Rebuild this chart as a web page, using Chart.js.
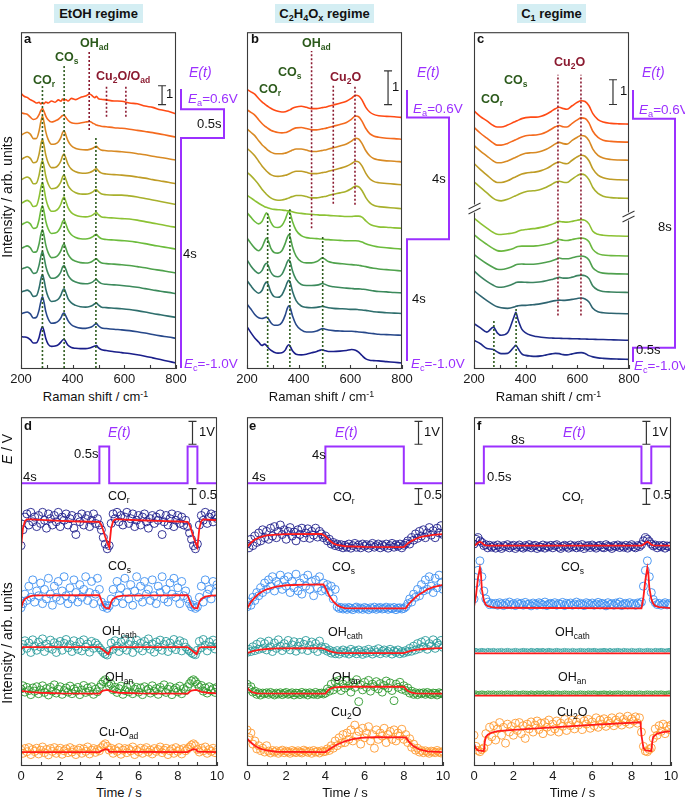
<!DOCTYPE html>
<html><head><meta charset="utf-8">
<script src="https://cdn.jsdelivr.net/npm/chart.js@4.4.1/dist/chart.umd.min.js"></script>
<style>
html,body{margin:0;padding:0;background:#fff;}
#root{position:relative;width:685px;height:801px;overflow:hidden;font-family:"Liberation Sans",Arial,sans-serif;color:#111;}
canvas{position:absolute;}
.t{position:absolute;white-space:nowrap;line-height:1;}
.t sub{font-size:0.68em;vertical-align:-0.32em;line-height:0;}
.t sup{font-size:0.68em;vertical-align:0.5em;line-height:0;}
.regime{position:absolute;top:4px;height:19px;line-height:19px;background:#d4eef3;font-weight:bold;font-size:13px;text-align:center;white-space:nowrap;}
.regime sub{font-size:0.7em;vertical-align:-0.3em;line-height:0;}
</style></head>
<body><div id="root"></div>
<script>
const FONT = '"Liberation Sans", Arial, sans-serif';
const PURPLE = '#9b30ff';
const GREEN_D = '#2c5a1c';
const RED_D = '#8b1a30';
const FIT_RED = '#ff1a1a';

/* ---------------- Raman spectra (panels a-c) ---------------- */
const ramanA_x = [200,212,224,236,248,260,270,277,283,289,296,305,318,332,345,355,361,367,373,382,395,412,430,450,466,478,486,492,499,510,530,560,590,620,650,680,710,740,770,800];
const ramanA = [
 [1.12,0.96,0.9,0.78,0.7,0.6,0.64,0.55,0.63,0.56,0.66,0.6,0.71,0.64,0.77,0.7,0.81,0.73,0.79,0.71,0.85,0.78,0.9,0.97,1.08,0.96,0.88,0.96,0.84,0.8,0.77,0.71,0.7,0.6,0.56,0.44,0.37,0.24,0.16,0.02],
 [1.3,1.25,1.22,1.06,0.94,0.99,1.2,1.42,1.52,1.37,1.12,0.92,0.8,0.86,0.95,1.08,1.15,1.16,1.06,0.9,0.76,0.72,0.75,0.8,0.83,0.74,0.69,0.64,0.62,0.58,0.55,0.5,0.47,0.42,0.36,0.3,0.24,0.16,0.08,0.0],
 [1.32,1.42,1.48,1.38,1.14,1.15,1.55,2.05,2.32,2.02,1.5,1.1,0.84,0.86,0.98,1.22,1.46,1.56,1.36,1.02,0.76,0.62,0.56,0.54,0.57,0.63,0.7,0.73,0.64,0.54,0.5,0.47,0.44,0.4,0.34,0.28,0.2,0.14,0.07,0.0],
 [1.28,1.38,1.45,1.35,1.12,1.16,1.58,2.1,2.36,2.05,1.52,1.12,0.86,0.87,1.0,1.24,1.48,1.58,1.38,1.04,0.78,0.64,0.57,0.56,0.6,0.68,0.76,0.8,0.7,0.58,0.52,0.49,0.46,0.42,0.36,0.3,0.22,0.15,0.08,0.0],
 [1.3,1.4,1.46,1.36,1.1,1.14,1.56,2.08,2.34,2.04,1.5,1.1,0.84,0.86,0.99,1.22,1.47,1.56,1.37,1.02,0.77,0.63,0.56,0.55,0.59,0.67,0.76,0.8,0.69,0.57,0.52,0.5,0.5,0.46,0.4,0.32,0.24,0.16,0.08,0.0],
 [1.26,1.36,1.43,1.33,1.1,1.15,1.6,2.12,2.38,2.06,1.52,1.11,0.85,0.87,1.0,1.25,1.5,1.6,1.4,1.04,0.78,0.64,0.57,0.55,0.58,0.66,0.74,0.78,0.68,0.56,0.52,0.49,0.46,0.44,0.38,0.3,0.22,0.15,0.07,0.0],
 [1.28,1.37,1.44,1.34,1.1,1.14,1.57,2.08,2.3,2.0,1.48,1.08,0.83,0.85,0.98,1.22,1.46,1.55,1.36,1.02,0.76,0.62,0.55,0.54,0.58,0.66,0.75,0.79,0.68,0.56,0.51,0.48,0.45,0.42,0.36,0.29,0.21,0.14,0.07,0.0],
 [1.3,1.38,1.44,1.34,1.1,1.13,1.55,2.06,2.3,2.0,1.48,1.08,0.82,0.84,0.97,1.2,1.44,1.54,1.34,1.0,0.75,0.62,0.55,0.53,0.56,0.64,0.72,0.76,0.66,0.55,0.5,0.47,0.44,0.4,0.34,0.28,0.2,0.14,0.07,0.0],
 [1.3,1.36,1.42,1.32,1.08,1.12,1.52,2.0,2.24,1.96,1.46,1.07,0.82,0.84,0.96,1.18,1.42,1.5,1.32,0.99,0.75,0.62,0.55,0.53,0.56,0.63,0.72,0.75,0.66,0.55,0.5,0.47,0.44,0.4,0.34,0.27,0.2,0.13,0.07,0.0],
 [1.34,1.4,1.45,1.35,1.12,1.16,1.56,2.04,2.28,2.0,1.5,1.1,0.85,0.87,0.98,1.2,1.43,1.52,1.34,1.0,0.77,0.64,0.57,0.55,0.58,0.65,0.73,0.76,0.67,0.56,0.52,0.49,0.46,0.42,0.36,0.29,0.21,0.14,0.07,0.0],
 [1.3,1.36,1.4,1.3,1.08,1.12,1.5,1.96,2.2,1.92,1.42,1.04,0.8,0.82,0.92,1.1,1.28,1.34,1.2,0.94,0.72,0.6,0.54,0.53,0.57,0.65,0.74,0.78,0.68,0.56,0.52,0.48,0.45,0.41,0.35,0.28,0.2,0.13,0.07,0.0],
 [1.4,1.38,1.36,1.24,1.06,1.08,1.36,1.75,1.93,1.7,1.3,1.0,0.88,0.9,0.98,1.12,1.22,1.26,1.14,0.94,0.82,0.78,0.76,0.76,0.8,0.86,0.9,0.92,0.82,0.72,0.66,0.6,0.55,0.5,0.44,0.36,0.27,0.18,0.09,0.0]
];
const ramanA_offsets = [13.53,12.32,11.1,9.84,8.74,7.53,6.37,5.1,4.0,2.74,1.63,0.32];

const ramanB_x = [200,215,230,245,258,268,275,282,292,305,320,335,348,356,362,368,376,390,410,430,450,470,485,492,500,515,535,560,585,605,620,632,645,660,675,690,710,740,770,800];
const ramanB = [
 [0.83,0.76,0.69,0.56,0.46,0.4,0.36,0.32,0.27,0.22,0.18,0.16,0.17,0.19,0.21,0.23,0.27,0.31,0.33,0.3,0.26,0.26,0.28,0.29,0.3,0.33,0.37,0.42,0.48,0.57,0.66,0.64,0.52,0.3,0.16,0.09,0.05,0.03,0.02,0.0],
 [0.88,0.8,0.72,0.58,0.47,0.4,0.36,0.32,0.27,0.23,0.2,0.19,0.2,0.22,0.24,0.26,0.3,0.34,0.35,0.32,0.28,0.28,0.3,0.31,0.32,0.35,0.39,0.44,0.5,0.6,0.69,0.67,0.54,0.32,0.17,0.1,0.06,0.03,0.02,0.0],
 [0.98,0.88,0.78,0.63,0.51,0.44,0.39,0.34,0.29,0.25,0.24,0.24,0.26,0.28,0.3,0.32,0.35,0.38,0.38,0.35,0.31,0.31,0.33,0.34,0.35,0.38,0.42,0.47,0.53,0.62,0.7,0.68,0.55,0.33,0.18,0.1,0.06,0.03,0.02,0.0],
 [1.08,0.98,0.86,0.7,0.56,0.47,0.41,0.36,0.3,0.26,0.25,0.26,0.28,0.3,0.32,0.34,0.37,0.4,0.4,0.37,0.33,0.33,0.35,0.36,0.37,0.4,0.44,0.49,0.55,0.63,0.7,0.68,0.56,0.34,0.18,0.1,0.06,0.04,0.02,0.0],
 [1.08,0.98,0.86,0.72,0.58,0.49,0.43,0.38,0.32,0.27,0.25,0.26,0.28,0.3,0.32,0.34,0.36,0.39,0.39,0.36,0.32,0.32,0.34,0.35,0.36,0.39,0.43,0.47,0.52,0.6,0.67,0.65,0.54,0.33,0.18,0.1,0.06,0.04,0.02,0.0],
 [0.98,0.9,0.82,0.74,0.68,0.64,0.62,0.6,0.58,0.56,0.55,0.54,0.53,0.52,0.52,0.51,0.49,0.46,0.44,0.42,0.41,0.4,0.39,0.39,0.39,0.38,0.37,0.36,0.35,0.35,0.36,0.36,0.33,0.22,0.12,0.07,0.04,0.03,0.01,0.0],
 [1.08,0.95,0.82,0.75,0.82,0.98,1.08,1.0,0.8,0.66,0.64,0.7,0.88,1.05,1.12,1.04,0.82,0.56,0.4,0.34,0.32,0.31,0.3,0.3,0.29,0.28,0.27,0.26,0.25,0.25,0.25,0.24,0.21,0.16,0.12,0.09,0.06,0.04,0.02,0.0],
 [0.98,0.82,0.68,0.6,0.7,0.88,0.98,0.9,0.68,0.55,0.53,0.6,0.82,1.0,1.08,0.98,0.72,0.44,0.28,0.24,0.24,0.28,0.36,0.39,0.36,0.28,0.24,0.22,0.2,0.19,0.18,0.17,0.15,0.13,0.1,0.08,0.06,0.04,0.02,0.0],
 [0.98,0.8,0.66,0.58,0.66,0.82,0.88,0.82,0.62,0.5,0.48,0.55,0.76,0.92,0.98,0.9,0.66,0.4,0.25,0.22,0.22,0.23,0.26,0.28,0.26,0.21,0.18,0.16,0.14,0.13,0.12,0.12,0.11,0.1,0.08,0.06,0.04,0.03,0.01,0.0],
 [0.98,0.82,0.68,0.6,0.68,0.86,0.93,0.86,0.64,0.5,0.48,0.55,0.76,0.92,0.98,0.9,0.66,0.38,0.22,0.18,0.17,0.18,0.2,0.21,0.2,0.17,0.15,0.14,0.13,0.12,0.12,0.11,0.1,0.09,0.07,0.05,0.04,0.02,0.01,0.0],
 [0.93,0.78,0.62,0.52,0.5,0.52,0.54,0.5,0.38,0.3,0.3,0.38,0.6,0.8,0.88,0.8,0.58,0.32,0.16,0.1,0.1,0.13,0.18,0.2,0.19,0.16,0.14,0.13,0.12,0.12,0.11,0.1,0.09,0.08,0.06,0.05,0.03,0.02,0.01,0.0],
 [1.08,0.9,0.74,0.62,0.52,0.56,0.52,0.45,0.38,0.32,0.29,0.3,0.38,0.5,0.54,0.48,0.36,0.26,0.24,0.26,0.3,0.34,0.38,0.39,0.37,0.34,0.34,0.35,0.37,0.4,0.38,0.32,0.22,0.12,0.08,0.07,0.06,0.04,0.02,0.0]
];
const ramanB_offsets = [7.47,6.82,6.15,5.47,4.76,4.18,3.56,2.91,2.26,1.65,1.0,0.18];

const ramanC_x = [200,225,250,275,290,305,330,355,362,370,385,400,420,440,460,480,500,515,530,545,560,580,600,615,630,645,660,680,700,730,760,800];
const ramanC = [
 [0.53,0.3,0.13,-0.06,-0.12,-0.12,-0.04,0.08,0.11,0.15,0.22,0.26,0.28,0.28,0.32,0.4,0.52,0.62,0.68,0.63,0.6,0.74,0.88,0.94,0.91,0.74,0.42,0.18,0.08,0.03,0.01,0.0],
 [0.6,0.36,0.16,-0.04,-0.12,-0.12,-0.05,0.07,0.1,0.14,0.21,0.26,0.28,0.29,0.33,0.41,0.53,0.62,0.67,0.62,0.61,0.76,0.9,0.98,0.96,0.78,0.44,0.19,0.08,0.03,0.01,0.0],
 [0.6,0.37,0.17,-0.03,-0.1,-0.1,-0.03,0.09,0.12,0.16,0.23,0.28,0.3,0.31,0.36,0.44,0.56,0.66,0.72,0.67,0.65,0.8,0.93,1.0,0.97,0.79,0.45,0.2,0.09,0.03,0.01,0.0],
 [0.67,0.42,0.2,-0.02,-0.1,-0.1,-0.03,0.1,0.13,0.17,0.24,0.28,0.31,0.33,0.38,0.46,0.58,0.68,0.73,0.68,0.66,0.8,0.94,1.0,0.96,0.78,0.45,0.2,0.09,0.03,0.01,0.0],
 [0.67,0.44,0.22,0.0,-0.08,-0.1,-0.04,0.08,0.11,0.15,0.22,0.27,0.3,0.32,0.37,0.45,0.56,0.65,0.69,0.65,0.64,0.78,0.92,0.98,0.94,0.76,0.44,0.2,0.09,0.03,0.01,0.0],
 [0.73,0.52,0.33,0.15,0.08,0.07,0.1,0.14,0.16,0.2,0.25,0.27,0.3,0.32,0.36,0.41,0.47,0.54,0.6,0.58,0.57,0.6,0.65,0.67,0.64,0.5,0.2,0.08,0.04,0.02,0.01,0.0],
 [0.87,0.65,0.47,0.3,0.22,0.2,0.24,0.32,0.36,0.39,0.4,0.4,0.4,0.41,0.44,0.48,0.53,0.6,0.67,0.64,0.63,0.67,0.71,0.73,0.7,0.58,0.27,0.1,0.04,0.02,0.01,0.0],
 [0.8,0.6,0.42,0.27,0.2,0.19,0.24,0.34,0.38,0.4,0.41,0.4,0.4,0.41,0.44,0.48,0.53,0.59,0.65,0.62,0.62,0.66,0.71,0.73,0.7,0.57,0.26,0.1,0.04,0.02,0.01,0.0],
 [0.87,0.64,0.45,0.29,0.22,0.21,0.26,0.36,0.4,0.42,0.42,0.41,0.4,0.41,0.43,0.47,0.52,0.57,0.61,0.58,0.58,0.62,0.68,0.7,0.68,0.56,0.26,0.1,0.04,0.02,0.01,0.0],
 [0.93,0.72,0.53,0.36,0.28,0.24,0.22,0.27,0.3,0.32,0.34,0.34,0.36,0.38,0.41,0.45,0.5,0.53,0.55,0.54,0.55,0.58,0.62,0.64,0.6,0.48,0.22,0.08,0.04,0.02,0.01,0.0],
 [0.67,0.5,0.33,0.53,0.3,0.2,0.3,0.95,1.13,0.85,0.45,0.3,0.2,0.15,0.12,0.1,0.09,0.08,0.08,0.07,0.07,0.06,0.06,0.05,0.05,0.04,0.04,0.03,0.03,0.02,0.01,0.0],
 [0.77,0.63,0.44,0.4,0.3,0.23,0.24,0.5,0.57,0.45,0.22,0.16,0.13,0.12,0.14,0.18,0.22,0.24,0.23,0.19,0.18,0.22,0.26,0.27,0.24,0.15,0.1,0.06,0.04,0.02,0.01,0.0]
];
const ramanC_offsets = [9.89,9.16,8.43,7.63,6.89,5.36,4.56,3.83,3.09,2.23,1.16,0.39];

const colorsAB = ['#ff4a14','#f46a1e','#d88a24','#bf9c26','#a8b02c','#8cc234','#6cbc3c','#4fa24c','#3c8a5c','#2e6e6c','#27488a','#1a1e8a'];
const colorsC  = ['#ff4a14','#f46a1e','#d88a24','#bf9c26','#a8b02c','#8cc234','#6cb840','#4fa04e','#3c8460','#2e6470','#1e2a8a','#1e2a8a'];

// peak guide lines: [wavenumber, from, to, colour key]
const guidesA = [[283,0.05,15.05,'g'],[367,0.05,16.1,'g'],[490,0.05,12.3,'g'],[464,12.7,16.9,'r'],[531,13.4,15.1,'r'],[606,13.4,15.1,'r']];
const guidesB = [[280,0.06,4.62,'g'],[366,0.06,4.74,'g'],[493,0.06,3.94,'g'],[450,4.18,9.44,'r'],[534,4.91,8.44,'r'],[618,4.88,8.41,'r']];
const guidesC = [[277,0.08,1.96,'g'],[363,0.08,2.44,'g'],[525,2.16,11.88,'r'],[614,2.16,11.88,'r']];

// potential waveforms next to spectra: [E (V), t (s)]
const waveA = [[-1,0],[-1,4],[0.6,4],[0.6,4.5],[-1,4.5],[-1,4.85]];
const waveB = [[-1,0],[-1,4],[0.6,4],[0.6,8],[-1,8],[-1,8.9]];
const waveC = [[-1,0],[-1,0.5],[0.6,0.5],[0.6,8.5],[-1,8.5],[-1,9.5]];

/* ---------------- Time-resolved intensities (panels d-f) ---------------- */
const TIME = Array.from({length:101}, (_, i) => i / 10);

const dCOr = [0.05,0.55,0.95,1.05,0.7,1.1,0.8,0.95,0.65,1.0, 0.75,1.1,0.85,0.6,1.05,0.9,0.7,1.0,0.8,1.1, 0.65,0.95,0.85,1.05,0.7,0.9,1.0,0.6,0.4,0.95, 0.8,1.05,0.7,0.9,1.0,0.65,0.85,1.05,0.75,0.9, 0.7,0.55,0.3,0.1,-0.05,0.05,0.75,1.05,0.9,1.1, 0.8,1.0,0.7,0.95,1.1,0.75,0.9,1.05,0.65,0.85, 1.0,0.7,0.95,1.05,0.8,0.6,0.9,1.0,0.75,0.95, 0.85,1.05,0.4,0.8,1.0,0.7,0.9,1.05,0.65,0.85, 1.0,0.75,0.95,0.7,0.85,0.65,0.45,0.25,0.05,-0.05, 0.1,0.7,1.0,0.85,1.1,0.75,0.95,1.05,0.8,1.0, 0.9];
const dCOs = [0.02,0.15,0.45,0.25,0.7,0.35,0.9,0.2,0.55,0.4, 0.8,0.15,0.6,0.3,0.95,0.45,0.1,0.7,0.35,0.85, 0.25,0.55,1.0,0.4,0.15,0.65,0.3,0.9,0.5,0.2, 0.75,0.35,0.6,1.0,0.25,0.5,0.85,0.15,0.45,0.95, 0.6,0.2,0.05,0.1,0.0,0.08,0.3,0.6,0.2,0.85, 0.4,0.65,0.15,0.95,0.5,0.3,0.75,0.1,0.55,1.0, 0.35,0.7,0.2,0.85,0.45,0.6,0.25,0.9,0.4,0.15, 0.7,0.5,1.0,0.3,0.6,0.2,0.8,0.45,0.95,0.35, 0.65,0.15,0.85,0.4,0.55,0.3,0.15,0.05,0.1,0.0, 0.05,0.35,0.7,0.2,0.9,0.45,0.6,0.3,0.85,0.5, 0.75];
const dOHc = [0.1,0.3,0.42,0.18,0.35,0.05,0.45,0.25,0.12,0.38, 0.22,0.48,0.08,0.32,0.2,0.44,0.15,0.36,0.05,0.28, 0.4,0.12,0.34,0.46,0.2,0.3,0.08,0.42,0.25,0.15, 0.38,0.1,0.45,0.22,0.32,0.06,0.4,0.18,0.35,0.28, 0.2,0.12,0.05,0.0,-0.03,0.1,0.35,0.15,0.42,0.25, 0.08,0.38,0.2,0.46,0.12,0.3,0.4,0.05,0.28,0.44, 0.18,0.34,0.1,0.4,0.25,0.48,0.15,0.32,0.06,0.38, 0.22,0.44,0.12,0.3,0.4,0.08,0.35,0.2,0.46,0.14, 0.3,0.42,0.1,0.36,0.22,0.15,0.1,0.04,0.0,-0.02, 0.12,0.4,0.2,0.46,0.28,0.1,0.38,0.24,0.44,0.16, 0.34];
const dOHa = [0.15,0.25,0.05,0.2,0.1,-0.03,0.18,0.08,0.22,0.0, 0.12,0.25,0.04,0.16,-0.04,0.2,0.08,0.28,0.02,0.14, 0.22,-0.02,0.1,0.18,0.05,0.24,0.0,0.15,0.08,0.2, -0.03,0.12,0.26,0.04,0.18,0.08,0.22,-0.02,0.14,0.06, 0.2,0.3,0.38,0.44,0.36,0.25,0.3,0.12,0.2,0.04, 0.16,0.24,-0.02,0.1,0.2,0.06,0.26,0.0,0.14,0.2, 0.05,0.18,-0.03,0.22,0.1,0.15,0.02,0.25,0.08,0.16, -0.02,0.2,0.1,0.28,0.04,0.14,0.22,-0.03,0.12,0.18, 0.06,0.24,0.0,0.16,0.1,0.22,0.32,0.4,0.44,0.38, 0.3,0.2,0.26,0.08,0.18,0.02,0.22,0.1,0.16,0.04, 0.2];
const dCuO = [0.1,0.0,0.15,0.05,0.18,-0.04,0.12,0.06,0.16,-0.02, 0.1,0.2,0.02,0.12,-0.05,0.15,0.06,0.18,0.0,0.1, 0.16,-0.03,0.08,0.14,0.02,0.18,0.04,0.12,-0.04,0.1, 0.16,0.0,0.14,0.06,0.2,-0.02,0.1,0.15,0.03,0.12, 0.08,0.18,0.25,0.3,0.22,0.1,0.16,0.0,0.12,0.06, 0.18,-0.03,0.1,0.15,0.02,0.14,0.08,0.2,-0.04,0.1, 0.05,0.16,0.0,0.12,0.18,0.04,0.1,-0.02,0.15,0.06, 0.12,0.2,0.02,0.1,0.16,-0.04,0.08,0.14,0.0,0.18, 0.06,0.12,-0.02,0.15,0.08,0.14,0.2,0.26,0.3,0.24, 0.12,0.04,0.16,0.08,0.2,0.0,0.12,0.06,0.16,0.02, 0.1];

const eCOr = [0.1,-0.02,0.25,0.05,0.35,0.15,0.45,0.2,0.55,0.3, 0.5,0.25,0.6,0.35,0.65,0.3,0.5,0.7,0.4,0.55, 0.25,0.5,0.62,0.35,0.48,0.2,0.55,0.4,0.6,0.3, 0.45,0.58,0.28,0.5,0.38,0.6,0.32,0.5,0.42,0.3, 0.35,0.2,0.25,0.1,0.15,0.05,0.1,0.02,0.08,-0.02, 0.06,0.0,0.1,-0.03,0.05,0.12,0.0,0.07,-0.02,0.1, 0.03,0.08,-0.03,0.06,0.12,0.0,0.05,0.1,-0.02,0.07, 0.02,0.1,-0.03,0.05,0.12,0.0,0.08,0.03,0.1,-0.02, 0.06,0.12,0.2,0.1,0.3,0.22,0.42,0.28,0.5,0.35, 0.55,0.3,0.45,0.62,0.38,0.52,0.3,0.6,0.45,0.68, 0.4];
const eCOs = [0.05,0.2,0.1,0.35,0.25,0.5,0.4,0.65,0.5,0.8, 0.6,0.9,0.7,1.0,0.55,0.85,0.75,1.05,0.6,0.9, 0.7,1.0,0.5,0.85,0.65,1.08,0.55,0.8,0.45,0.95, 0.7,1.05,0.6,0.85,0.4,0.9,0.65,1.0,0.55,0.8, 0.6,0.75,0.5,0.7,0.3,0.6,0.05,0.0,0.03,-0.02, 0.02,-0.03,0.03,0.0,-0.04,0.02,0.04,-0.02,0.01,-0.03, 0.03,0.0,-0.04,0.02,-0.01,0.04,-0.03,0.01,0.03,-0.02, 0.0,0.04,-0.03,0.02,-0.01,0.03,-0.04,0.01,0.02,-0.02, 0.0,0.05,0.15,0.3,0.2,0.45,0.35,0.6,0.4,0.75, 0.55,0.9,0.6,1.0,0.7,0.5,0.95,0.65,1.05,0.8, 0.6];
const eOHc = [0.02,0.12,0.05,0.2,0.08,0.28,0.12,0.35,0.15,0.3, 0.1,0.38,0.2,0.05,0.32,0.15,0.42,0.22,0.08,0.3, 0.18,0.4,0.1,0.26,0.36,0.06,0.22,0.34,0.12,0.28, 0.4,0.08,0.24,0.35,0.14,0.3,0.05,0.38,0.2,0.12, 0.18,0.06,0.1,0.0,0.05,-0.02,0.08,-0.03,0.04,0.1, 0.0,0.06,-0.03,0.12,0.02,0.07,-0.02,0.1,0.03,-0.04, 0.08,0.0,0.12,0.04,-0.03,0.09,0.02,0.14,-0.02,0.06, 0.1,0.0,0.05,0.12,-0.03,0.07,0.02,0.1,-0.02,0.05, 0.0,0.08,0.04,0.15,0.06,0.22,0.1,0.3,0.14,0.35, 0.2,0.4,0.12,0.3,0.22,0.42,0.15,0.32,0.25,0.4, 0.18];
const eOHa = [0.3,0.15,0.22,0.05,0.08,-0.02,0.03,-0.04,0.02,0.0, 0.03,-0.02,0.04,0.0,-0.04,0.02,-0.01,0.03,-0.03,0.01, 0.04,-0.02,0.0,0.03,-0.04,0.02,0.01,-0.03,0.04,-0.01, 0.02,-0.04,0.03,0.0,-0.02,0.04,-0.03,0.01,0.02,-0.01, 0.02,0.15,0.08,0.3,0.12,0.38,0.2,0.42,0.1,0.3, 0.18,0.4,0.25,0.05,0.35,0.2,0.44,-0.25,0.28,0.12, 0.36,0.2,0.42,0.08,0.3,0.22,0.38,0.15,0.32,0.05, 0.26,0.4,0.18,0.34,0.1,-0.22,0.3,0.2,0.36,0.14, 0.25,0.1,0.18,0.02,0.08,-0.02,0.03,-0.03,0.02,0.0, 0.03,-0.02,0.04,0.0,-0.03,0.02,0.01,-0.04,0.03,0.0, 0.02];
const eCu2O = [0.7,0.45,0.6,0.25,0.35,0.1,0.2,0.05,0.12,0.0, 0.2,0.03,-0.03,0.05,0.0,0.04,-0.04,0.02,0.06,-0.02, 0.03,0.0,-0.04,0.05,0.01,-0.02,0.04,0.0,-0.03,0.06, 0.02,-0.01,0.03,-0.04,0.05,0.0,0.02,-0.03,0.04,0.01, 0.02,0.1,0.05,0.2,0.12,0.35,0.2,0.45,0.28,0.55, 0.3,0.6,0.4,0.7,0.35,0.85,0.5,0.65,0.25,0.75, 0.45,0.6,0.8,0.35,0.55,0.12,0.7,0.4,0.6,0.5, 0.75,0.3,0.55,0.65,0.4,0.7,0.35,0.6,0.5,0.72, 0.4,0.55,0.3,0.42,0.15,0.25,0.06,0.12,0.0,0.05, -0.02,0.04,0.0,-0.04,0.03,0.01,-0.02,0.05,0.0,-0.03, 0.02];

const fCOr = [0.1,0.25,0.3,0.2,0.15,0.05,0.08,-0.02,0.06,0.0, 0.04,-0.03,0.07,0.01,-0.04,0.05,0.02,0.08,-0.02,0.03, 0.06,-0.04,0.02,0.07,0.0,-0.03,0.05,0.01,0.08,-0.02, 0.03,0.06,-0.04,0.02,0.0,0.07,-0.03,0.04,0.01,0.06, -0.02,0.05,0.08,0.0,-0.04,0.03,0.06,0.02,-0.03,0.07, 0.01,0.04,-0.02,0.06,0.0,0.08,-0.04,0.03,0.05,-0.01, 0.07,0.02,-0.03,0.04,0.06,0.0,-0.02,0.08,0.03,0.01, -0.04,0.05,0.02,0.07,-0.01,0.04,0.0,0.06,-0.03,0.03, 0.08,0.01,-0.02,0.05,0.02,0.08,0.2,0.3,0.25,0.18, 0.1,0.04,0.07,-0.02,0.05,0.01,0.06,-0.03,0.04,0.02, 0.05];
const fCOs = [0.3,0.8,1.2,1.5,1.0,0.55,0.3,0.2,0.12,0.16, 0.12,0.16,0.1,0.18,0.14,0.09,0.17,0.12,0.2,0.11, 0.15,0.09,0.18,0.13,0.16,0.1,0.19,0.12,0.14,0.08, 0.17,0.13,0.1,0.18,0.15,0.11,0.2,0.09,0.14,0.16, 0.12,0.18,0.1,0.15,0.13,0.19,0.09,0.16,0.12,0.17, 0.1,0.14,0.2,0.11,0.16,0.13,0.09,0.18,0.15,0.12, 0.17,0.1,0.14,0.19,0.11,0.16,0.13,0.08,0.18,0.12, 0.15,0.1,0.17,0.13,0.2,0.09,0.14,0.16,0.11,0.18, 0.12,0.15,0.1,0.17,0.14,0.2,0.7,1.2,1.5,1.0, 0.5,0.28,0.18,0.12,0.16,0.1,0.14,0.18,0.11,0.15, 0.12];
const fOHc = [0.1,0.11,0.09,0.1,0.11,0.1,0.09,0.11,0.1,0.1, 0.11,0.09,0.1,0.1,0.11,0.09,0.1,0.11,0.1,0.09, 0.1,0.11,0.1,0.09,0.1,0.11,0.1,0.1,0.09,0.11, 0.1,0.09,0.11,0.1,0.1,0.11,0.09,0.1,0.11,0.1, 0.09,0.1,0.11,0.1,0.09,0.1,0.11,0.1,0.1,0.09, 0.11,0.1,0.09,0.1,0.11,0.1,0.1,0.09,0.11,0.1, 0.1,0.11,0.1,0.09,0.1,0.1,0.11,0.1,0.09,0.11, 0.09,0.1,0.1,0.11,0.1,0.09,0.11,0.1,0.1,0.09, 0.11,0.1,0.09,0.1,0.11,0.1,0.09,0.1,0.11,0.1, 0.1,0.09,0.11,0.1,0.1,0.11,0.1,0.09,0.1,0.11, 0.1];
const fOHa = [0.09,0.1,0.08,0.09,0.1,0.09,0.08,0.1,0.09,0.09, 0.1,0.08,0.09,0.09,0.1,0.08,0.09,0.1,0.09,0.08, 0.09,0.1,0.09,0.08,0.09,0.1,0.09,0.09,0.08,0.1, 0.09,0.08,0.1,0.09,0.09,0.1,0.08,0.09,0.1,0.09, 0.08,0.09,0.1,0.09,0.08,0.09,0.1,0.09,0.09,0.08, 0.1,0.09,0.08,0.09,0.1,0.09,0.09,0.08,0.1,0.09, 0.09,0.1,0.09,0.08,0.09,0.09,0.1,0.09,0.08,0.1, 0.08,0.09,0.09,0.1,0.09,0.08,0.1,0.09,0.09,0.08, 0.1,0.09,0.08,0.09,0.1,0.09,0.08,0.09,0.1,0.09, 0.09,0.08,0.1,0.09,0.09,0.1,0.09,0.08,0.09,0.1, 0.09];
const fCu2O = [0.5,0.15,0.02,-0.02,0.05,0.1,0.55,0.3,0.75,0.45, 0.8,0.35,0.7,0.9,0.5,0.75,0.25,0.85,0.6,0.78, 0.5,0.88,0.65,0.9,0.55,0.8,0.4,0.85,0.7,0.92, 0.6,0.82,0.95,0.68,0.88,0.55,0.9,0.75,0.98,0.62, 0.85,0.7,0.95,0.6,0.88,0.78,1.0,0.65,0.9,0.8, 0.98,0.7,0.92,0.82,1.02,0.68,0.95,0.85,1.0,0.72, 0.92,0.8,1.05,0.75,0.98,0.85,1.02,0.78,0.95,0.88, 1.05,0.8,0.98,0.9,1.08,0.82,1.0,0.92,1.1,0.85, 1.02,0.95,1.08,0.88,1.05,0.6,0.15,0.0,-0.02,0.05, 0.1,0.4,0.7,0.5,0.8,0.62,0.85,0.55,0.78,0.68, 0.82];

// kinetic fits: [t, intensity]
const dCOrFit = [[0,0],[0.1,0.6],[0.2,0.82],[0.3,0.88],[0.5,0.88],[1,0.86],[2,0.83],[3,0.81],[4,0.8],[4.1,0.7],[4.2,0.52],[4.3,0.32],[4.4,0.14],[4.5,0],[4.6,0.6],[4.7,0.82],[4.8,0.88],[5,0.88],[6,0.85],[7,0.83],[8,0.81],[8.5,0.8],[8.6,0.7],[8.7,0.52],[8.8,0.32],[8.9,0.14],[9,0],[9.1,0.6],[9.2,0.82],[9.3,0.88],[10,0.85]];
const dCOsFit = [[0,0],[0.1,0.2],[0.2,0.3],[0.4,0.37],[0.6,0.4],[1,0.41],[4,0.42],[4.1,0.25],[4.2,0.1],[4.3,0.02],[4.5,0],[4.6,0.2],[4.7,0.3],[4.9,0.37],[5.2,0.4],[8.5,0.42],[8.6,0.25],[8.7,0.1],[8.8,0.02],[9,0],[9.1,0.2],[9.2,0.3],[9.4,0.37],[9.7,0.4],[10,0.41]];
const dOHcFit = [[0,0.15],[0.1,0.22],[4,0.22],[4.45,0],[4.5,0.05],[4.6,0.2],[4.7,0.22],[8.5,0.22],[8.95,0],[9,0.05],[9.1,0.2],[9.2,0.22],[10,0.22]];
const dOHaFit = [[0,0.09],[0.5,0.05],[1,0.03],[2,0.01],[4,0],[4.1,0.06],[4.2,0.1],[4.4,0.12],[4.5,0.1],[4.7,0.06],[5,0.03],[6,0.01],[8.5,0],[8.6,0.06],[8.7,0.1],[8.9,0.12],[9,0.11],[9.2,0.06],[9.5,0.03],[10,0.01]];
const dCuOFit = [[0,0.04],[4,0.04],[4.1,0.08],[4.3,0.13],[4.45,0.12],[4.5,0.05],[8.5,0.04],[8.6,0.08],[8.8,0.13],[8.95,0.12],[9,0.05],[10,0.04]];

const eCOrFit = [[0,0],[0.2,0.14],[0.4,0.24],[0.6,0.3],[0.8,0.34],[1,0.37],[1.5,0.4],[2,0.41],[3.8,0.42],[4,0.35],[4.2,0.22],[4.4,0.12],[4.6,0.07],[5,0.03],[6,0.01],[8,0],[8.2,0.12],[8.4,0.2],[8.6,0.26],[8.8,0.31],[9,0.34],[9.5,0.39],[10,0.41]];
const eCOsFit = [[0,0],[0.2,0.2],[0.4,0.35],[0.6,0.46],[0.8,0.54],[1,0.6],[1.5,0.69],[2,0.73],[3,0.75],[3.9,0.76],[4,0.65],[4.2,0.4],[4.4,0.22],[4.6,0.1],[4.8,0.04],[5,0.01],[6,0],[8.1,0],[8.2,0.1],[8.4,0.24],[8.6,0.35],[8.8,0.45],[9,0.52],[9.2,0.6],[9.5,0.67],[10,0.74]];
const eOHcFit = [[0,0],[0.3,0.06],[0.6,0.1],[1,0.13],[1.5,0.15],[3.8,0.16],[4,0.12],[4.2,0.06],[4.4,0.03],[4.6,0.01],[5,0],[8,0],[8.3,0.06],[8.6,0.1],[9,0.13],[9.5,0.15],[10,0.16]];
const eOHaFit = [[0,0.2],[0.1,0.12],[0.2,0.07],[0.3,0.04],[0.5,0.01],[4,0],[4.1,0.08],[4.2,0.14],[4.4,0.19],[4.6,0.21],[5,0.22],[8,0.22],[8.1,0.15],[8.2,0.09],[8.4,0.03],[8.6,0.01],[10,0]];
const eCu2OFit = [[0,0.43],[0.2,0.3],[0.4,0.2],[0.6,0.13],[0.8,0.08],[1,0.05],[1.5,0.01],[4,0],[4.3,0.13],[4.6,0.24],[5,0.34],[5.4,0.41],[5.8,0.45],[6.5,0.47],[8.1,0.46],[8.3,0.3],[8.5,0.18],[8.8,0.08],[9.2,0.02],[10,0]];

const fCOrFit = [[0,0.05],[0.1,0.08],[0.2,0.14],[0.3,0.17],[0.4,0.14],[0.5,0.08],[0.6,0.06],[0.8,0.05],[8.5,0.05],[8.6,0.08],[8.7,0.14],[8.8,0.17],[8.9,0.14],[9,0.08],[9.1,0.06],[10,0.05]];
const fCOsFit = [[0,0.05],[0.1,0.4],[0.2,0.95],[0.3,1.28],[0.35,1.1],[0.4,0.6],[0.5,0.25],[0.6,0.12],[0.7,0.07],[0.9,0.04],[1.2,0.02],[8.5,0],[8.6,0.35],[8.7,0.9],[8.8,1.28],[8.85,1.1],[8.9,0.65],[9,0.3],[9.1,0.15],[9.2,0.08],[9.4,0.04],[10,0.01]];
const fOHcFit = [[0,0],[10,0]];
const fOHaFit = [[0,0],[10,0]];
const fCu2OFit = [[0,0.24],[0.1,0.08],[0.2,0.02],[0.5,0],[0.55,0.3],[0.6,0.45],[0.7,0.52],[0.9,0.58],[1.2,0.63],[2,0.67],[4,0.75],[6,0.83],[8.45,0.91],[8.5,0.5],[8.6,0.1],[8.7,0.02],[9,0],[9.05,0.3],[9.1,0.45],[9.3,0.55],[9.6,0.6],[10,0.63]];

// applied potential E(t): [t, E (V)]
const potD = [[0,-1],[4,-1],[4,0.6],[4.5,0.6],[4.5,-1],[8.5,-1],[8.5,0.6],[9,0.6],[9,-1],[10,-1]];
const potE = [[0,-1],[4,-1],[4,0.6],[8,0.6],[8,-1],[10,-1]];
const potF = [[0,-1],[0.5,-1],[0.5,0.6],[8.5,0.6],[8.5,-1],[9,-1],[9,0.6],[10,0.6]];

// vertical stacking baselines of each trace
const offsD = [6.9,4.97,3.53,2.28,0.4];
const offsE = [6.9,4.97,3.56,2.28,0.44];
const offsF = [6.9,4.97,3.55,2.22,0.47];
const scatterColors = ['#1f1f8c','#3d8ef0','#2a9c9c','#2f9a2f','#ff9a30'];

/* ---------------- helpers ---------------- */
const root = document.getElementById('root');
Chart.defaults.font.family = FONT;

function mkCanvas(left, top, w, h) {
  const c = document.createElement('canvas');
  c.width = w; c.height = h;
  c.style.left = left + 'px'; c.style.top = top + 'px';
  c.style.width = w + 'px'; c.style.height = h + 'px';
  root.appendChild(c);
  return c;
}

const framePlugin = {
  id: 'frame',
  afterDatasetsDraw(chart, args, opts) {
    const {ctx, chartArea: a, scales} = chart;
    ctx.save();
    ctx.strokeStyle = '#3a3a3a'; ctx.lineWidth = 1.1;
    ctx.strokeRect(a.left + 0.5, a.top + 0.5, a.right - a.left - 1, a.bottom - a.top - 1);
    const xs = scales.x;
    ctx.beginPath();
    xs.ticks.forEach(t => {
      const px = Math.round(xs.getPixelForValue(t.value)) + 0.5;
      ctx.moveTo(px, a.bottom); ctx.lineTo(px, a.bottom - 4);
    });
    ctx.stroke();
    (opts.breaks || []).forEach(b => {
      const px = b.side === 'left' ? a.left + 0.5 : a.right - 0.5;
      const py = scales.y.getPixelForValue(b.y);
      ctx.fillStyle = '#fff'; ctx.fillRect(px - 2, py - 4, 4, 8);
      ctx.beginPath();
      [-2.5, 2.5].forEach(dy => { ctx.moveTo(px - 6, py + dy + 3); ctx.lineTo(px + 6, py + dy - 3); });
      ctx.stroke();
    });
    ctx.restore();
  }
};

function xAxis(min, max, step, labelEvery) {
  return {
    type: 'linear', min, max,
    afterFit(s) { s.height = 18; },
    grid: {display: false, drawTicks: false},
    border: {display: false},
    ticks: {stepSize: step, autoSkip: false, maxRotation: 0, padding: 3, color: '#1a1a1a',
      font: {family: FONT, size: 13},
      callback: v => (Math.round(v / step) % labelEvery === 0 ? String(v) : '')}
  };
}

function scaleBar(x, y0, y1, axis) {
  return {data: [{x, y: y0}, {x, y: y1}], yAxisID: axis, showLine: true, borderColor: '#333', borderWidth: 1.2,
    pointStyle: 'line', pointRadius: 4, pointBorderColor: '#333', pointBorderWidth: 1.2, order: 0};
}

const baseOpts = {animation: false, responsive: false, devicePixelRatio: 1, events: []};

function spectraPanel(p) {
  const c = mkCanvas(p.left - 16, p.top - 2, p.w + 32, p.h + 20);
  const ds = [];
  p.rows.forEach((r, i) => ds.push({
    data: p.xs.map((x, j) => ({x, y: r[j] + p.offsets[i]})),
    showLine: true, borderColor: p.colors[i], borderWidth: 1.6, pointRadius: 0,
    cubicInterpolationMode: 'monotone', order: 2}));
  p.guides.forEach(g => ds.push({
    data: [{x: g[0], y: g[1]}, {x: g[0], y: g[2]}], showLine: true,
    borderColor: g[3] === 'g' ? GREEN_D : RED_D, borderWidth: 1.6, borderDash: [2, 2], pointRadius: 0, order: 1}));
  ds.push(scaleBar(p.bar[0], p.bar[1], p.bar[2], 'y'));
  new Chart(c, {
    type: 'scatter', data: {datasets: ds},
    options: Object.assign({}, baseOpts, {
      layout: {padding: {left: 16, right: 16, top: 2, bottom: 0}},
      scales: {x: xAxis(200, 800, 100, 2), y: {display: false, min: 0, max: p.ymax}},
      plugins: {legend: {display: false}, tooltip: {enabled: false}, frame: {breaks: p.breaks || []}}
    }),
    plugins: [framePlugin]
  });
}

function wavePanel(left, top, w, h, pts, tmax) {
  const c = mkCanvas(left - 4, top - 4, w + 8, h + 8);
  new Chart(c, {
    type: 'scatter',
    data: {datasets: [{data: pts.map(p => ({x: p[0], y: p[1]})), showLine: true, borderColor: PURPLE,
      borderWidth: 2, pointRadius: 0, clip: false}]},
    options: Object.assign({}, baseOpts, {
      layout: {padding: 4},
      scales: {x: {display: false, min: -1, max: 0.6}, y: {display: false, min: 0, max: tmax}},
      plugins: {legend: {display: false}, tooltip: {enabled: false}}
    })
  });
}

function timePanel(p) {
  const c = mkCanvas(p.left - 16, p.top - 2, p.w + 32, p.h + 20);
  const ds = [];
  p.series.forEach((s, i) => {
    ds.push({data: TIME.map((t, j) => ({x: t, y: s[0][j] + p.offsets[i]})), showLine: false,
      pointRadius: s[2] || 4, pointBorderWidth: s[2] ? 0.8 : 0.9, pointBackgroundColor: 'rgba(0,0,0,0)',
      pointBorderColor: scatterColors[i], borderColor: scatterColors[i], order: 3});
    ds.push({data: s[1].map(q => ({x: q[0], y: q[1] + p.offsets[i]})), showLine: true,
      borderColor: FIT_RED, borderWidth: 1.8, pointRadius: 0, order: 1});
  });
  ds.push({data: p.pot.map(q => ({x: q[0], y: q[1]})), yAxisID: 'yE', showLine: true,
    borderColor: PURPLE, borderWidth: 2, pointRadius: 0, order: 0});
  ds.push(scaleBar(8.75, 0.7, 1.7, 'yE'));
  ds.push(scaleBar(8.75, 8.25, 8.75, 'y'));
  new Chart(c, {
    type: 'scatter', data: {datasets: ds},
    options: Object.assign({}, baseOpts, {
      layout: {padding: {left: 16, right: 16, top: 2, bottom: 0}},
      scales: {x: xAxis(0, 10, 1, 2),
        y: {display: false, min: 0, max: 11},
        yE: {display: false, position: 'right', min: -13.34, max: 1.88}},
      plugins: {legend: {display: false}, tooltip: {enabled: false}, frame: {}}
    }),
    plugins: [framePlugin]
  });
}

function T(x, cy, html, o = {}) {
  const d = document.createElement('div');
  d.className = 't';
  const fs = o.fs || 13;
  d.style.fontSize = fs + 'px';
  d.innerHTML = html;
  d.style.left = x + 'px';
  d.style.top = (cy - fs / 2) + 'px';
  if (o.center) d.style.transform = 'translateX(-50%)';
  if (o.color) d.style.color = o.color;
  if (o.bold) d.style.fontWeight = 'bold';
  if (o.italic) d.style.fontStyle = 'italic';
  root.appendChild(d);
}
function R(cx, cy, html, fs) {
  const d = document.createElement('div');
  d.className = 't';
  d.style.fontSize = fs + 'px';
  d.innerHTML = html;
  d.style.left = cx + 'px'; d.style.top = cy + 'px';
  d.style.transform = 'translate(-50%,-50%) rotate(-90deg)';
  root.appendChild(d);
}
function regime(left, width, html) {
  const d = document.createElement('div');
  d.className = 'regime';
  d.style.left = left + 'px'; d.style.width = width + 'px';
  d.innerHTML = html;
  root.appendChild(d);
}

/* ---------------- build ---------------- */
spectraPanel({left: 21, top: 29, w: 155, h: 340, xs: ramanA_x, rows: ramanA, offsets: ramanA_offsets,
  colors: colorsAB, ymax: 340 / 19, guides: guidesA, bar: [746, 14.05, 15.05]});
spectraPanel({left: 247, top: 29, w: 155, h: 340, xs: ramanB_x, rows: ramanB, offsets: ramanB_offsets,
  colors: colorsAB, ymax: 10, guides: guidesB, bar: [746, 7.85, 8.85]});
spectraPanel({left: 474, top: 29, w: 155, h: 340, xs: ramanC_x, rows: ramanC, offsets: ramanC_offsets,
  colors: colorsC, ymax: 13.6, guides: guidesC, bar: [738, 10.68, 11.68],
  breaks: [{side: 'left', y: 6.48}, {side: 'right', y: 6.16}]});

wavePanel(181, 89, 43, 279, waveA, 4.85);
wavePanel(407, 90, 42, 271, waveB, 8.9);
wavePanel(633, 90, 42, 272, waveC, 9.5);

timePanel({left: 21, top: 414, w: 196, h: 352, offsets: offsD, pot: potD,
  series: [[dCOr, dCOrFit], [dCOs, dCOsFit], [dOHc, dOHcFit], [dOHa, dOHaFit], [dCuO, dCuOFit]]});
timePanel({left: 247, top: 414, w: 196, h: 352, offsets: offsE, pot: potE,
  series: [[eCOr, eCOrFit], [eCOs, eCOsFit], [eOHc, eOHcFit], [eOHa, eOHaFit], [eCu2O, eCu2OFit]]});
timePanel({left: 474, top: 414, w: 197, h: 352, offsets: offsF, pot: potF,
  series: [[fCOr, fCOrFit], [fCOs, fCOsFit], [fOHc, fOHcFit, 1.6], [fOHa, fOHaFit, 1.6], [fCu2O, fCu2OFit]]});

/* ---------------- text ---------------- */
regime(54, 89, 'EtOH regime');
regime(275, 99, 'C<sub>2</sub>H<sub>4</sub>O<sub>x</sub> regime');
regime(517, 69, 'C<sub>1</sub> regime');

[['a', 24, 38], ['b', 251, 38], ['c', 477, 38], ['d', 24, 425], ['e', 249, 425], ['f', 477, 425]]
  .forEach(l => T(l[1], l[2], l[0], {bold: true, fs: 13}));

R(7, 197, 'Intensity / arb. units', 14);
R(7, 643, 'Intensity / arb. units', 14);
R(7, 449, '<i>E</i> / V', 14);

[95.5, 321.5, 548.5].forEach(cx => T(cx, 396, 'Raman shift / cm<sup>-1</sup>', {center: true, fs: 13}));
[119, 345, 572.5].forEach(cx => T(cx, 792, 'Time / s', {center: true, fs: 13}));

// panel a annotations
const G = {bold: true, fs: 12.5, color: GREEN_D};
const Rd = {bold: true, fs: 12.5, color: RED_D};
T(33, 80, 'CO<sub>r</sub>', G); T(55, 57, 'CO<sub>s</sub>', G); T(80, 43, 'OH<sub>ad</sub>', G);
T(96, 76, 'Cu<sub>2</sub>O/O<sub>ad</sub>', Rd); T(166, 93, '1');
// panel b
T(259, 89, 'CO<sub>r</sub>', G); T(278, 72, 'CO<sub>s</sub>', G); T(302, 43, 'OH<sub>ad</sub>', G);
T(330, 77, 'Cu<sub>2</sub>O', Rd); T(392, 86, '1');
// panel c
T(481, 99, 'CO<sub>r</sub>', G); T(504, 80, 'CO<sub>s</sub>', G); T(554, 62, 'Cu<sub>2</sub>O', Rd); T(620, 90, '1');

// waveform labels
const P = {color: PURPLE, fs: 13.5};
const PI = {color: PURPLE, fs: 14, italic: true};
T(189, 72, 'E(t)', PI); T(188, 99, '<i>E</i><sub>a</sub>=0.6V', P); T(197, 123, '0.5s');
T(183, 253, '4s'); T(184, 364, '<i>E</i><sub>c</sub>=-1.0V', P);
T(417, 72, 'E(t)', PI); T(413, 109, '<i>E</i><sub>a</sub>=0.6V', P); T(432, 178, '4s');
T(412, 298, '4s'); T(411, 364, '<i>E</i><sub>c</sub>=-1.0V', P);
T(642, 72, 'E(t)', PI); T(639, 110, '<i>E</i><sub>a</sub>=0.6V', P); T(658, 226, '8s');
T(636, 349, '0.5s'); T(634, 366, '<i>E</i><sub>c</sub>=-1.0V', P);

// bottom panel labels
const S = {fs: 12.5};
T(108, 432, 'E(t)', PI); T(74, 453, '0.5s'); T(23, 476, '4s'); T(199, 431, '1V'); T(199, 494, '0.5');
T(108, 496, 'CO<sub>r</sub>', S); T(108, 566, 'CO<sub>s</sub>', S); T(102, 631, 'OH<sub>cath</sub>', S);
T(105, 677, 'OH<sub>an</sub>', S); T(99, 732, 'Cu-O<sub>ad</sub>', S);

T(335, 432, 'E(t)', PI); T(312, 454, '4s'); T(252, 476, '4s'); T(424, 431, '1V'); T(424, 494, '0.5');
T(333, 497, 'CO<sub>r</sub>', S); T(332, 567, 'CO<sub>s</sub>', S); T(328, 632, 'OH<sub>cath</sub>', S);
T(332, 677, 'OH<sub>an</sub>', S); T(331, 712, 'Cu<sub>2</sub>O', S);

T(563, 432, 'E(t)', PI); T(511, 439, '8s'); T(487, 476, '0.5s'); T(652, 431, '1V'); T(653, 494, '0.5');
T(562, 497, 'CO<sub>r</sub>', S); T(561, 567, 'CO<sub>s</sub>', S); T(555, 632, 'OH<sub>cath</sub>', S);
T(558, 677, 'OH<sub>an</sub>', S); T(557, 712, 'Cu<sub>2</sub>O', S);
</script></body></html>
